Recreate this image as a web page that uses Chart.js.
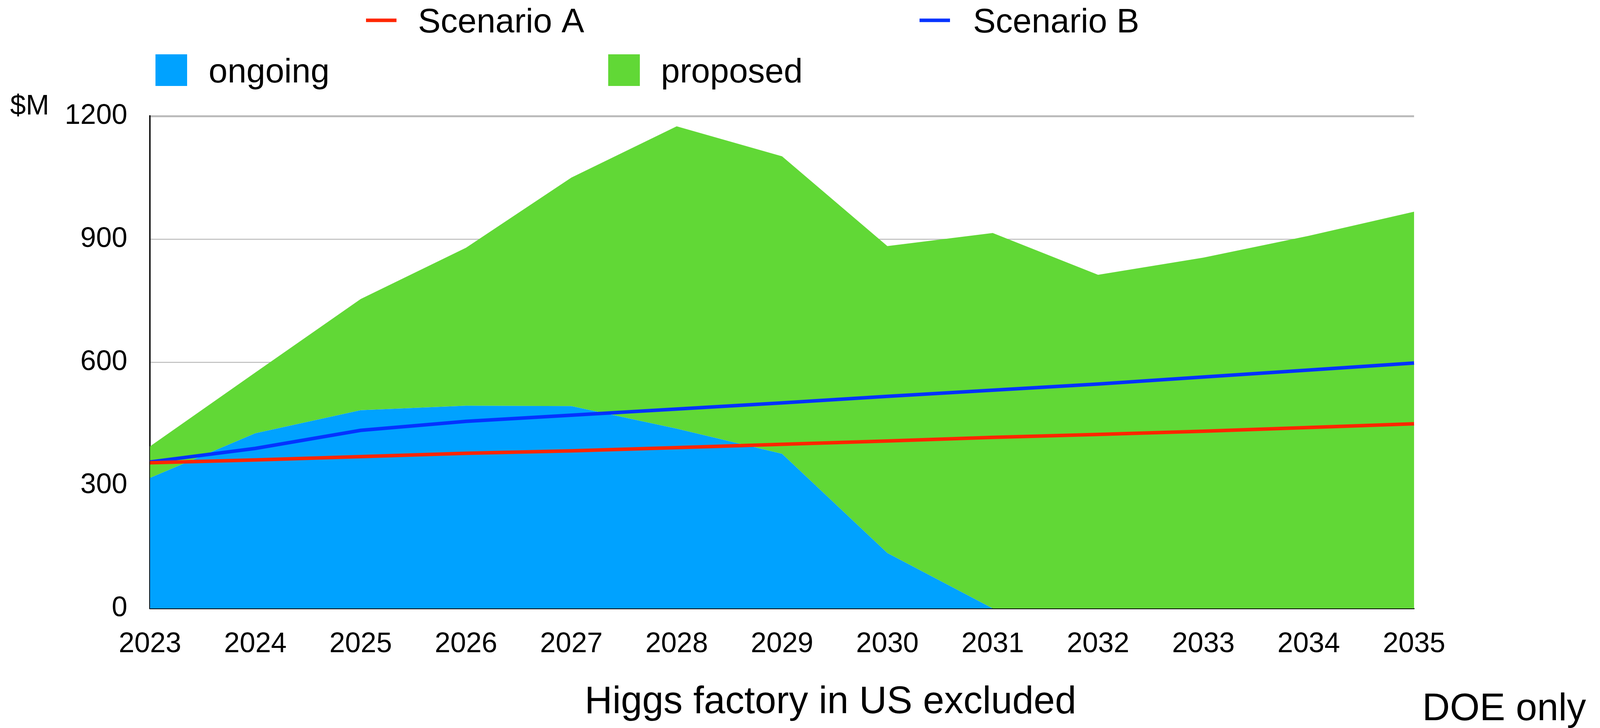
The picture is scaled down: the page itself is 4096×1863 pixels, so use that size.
<!DOCTYPE html>
<html>
<head>
<meta charset="utf-8">
<title>Higgs factory in US excluded</title>
<script src="https://cdn.jsdelivr.net/npm/chart.js@4"></script>
<style>
  html, body { margin: 0; padding: 0; background: #fff; }
  canvas { display: block; }
</style>
</head>
<body>
<canvas id="chart" width="4096" height="1863"></canvas>
<script>
'use strict';

// values ($M per year)
const years     = ['2023', '2024', '2025', '2026', '2027', '2028', '2029',
                   '2030', '2031', '2032', '2033', '2034', '2035'];
const ongoing   = [318, 427, 483, 494, 493, 438, 377, 135, 0, 0, 0, 0, 0];
const proposed  = [77, 148, 271, 385, 557, 737, 725, 748, 915, 813, 855, 908, 967];
const scenarioA = [355, 362, 370, 378, 384, 392, 400, 408, 417, 424, 432, 441, 450];
const scenarioB = [357, 390, 434, 456, 471, 486, 501, 517, 532, 547, 564, 581, 598];
const yTicks    = [0, 300, 600, 900, 1200];

const FONT = '"Liberation Sans", Arial, Helvetica, sans-serif';

// hand placed legend, the original puts it on two rows of two
const legendLayout = [
  { index: 0, kind: 'line', x: 937,  y: 52,  textX: 1070, baseline: 83 },
  { index: 1, kind: 'line', x: 2354, y: 52,  textX: 2491, baseline: 83 },
  { index: 2, kind: 'box',  x: 398,  y: 139, textX: 534,  baseline: 211 },
  { index: 3, kind: 'box',  x: 1557, y: 139, textX: 1692, baseline: 211 }
];

const labelsPlugin = {
  id: 'labels',
  afterDraw(chart) {
    const ctx = chart.ctx;
    ctx.save();
    ctx.textBaseline = 'alphabetic';
    ctx.textAlign = 'left';
    ctx.font = `87px ${FONT}`;

    for (const item of legendLayout) {
      const ds = chart.data.datasets[item.index];
      if (item.kind === 'line') {
        ctx.fillStyle = ds.borderColor;
        ctx.fillRect(item.x, item.y - 4.5, 78, 9);
      } else {
        ctx.fillStyle = ds.backgroundColor;
        ctx.fillRect(item.x, item.y, 81, 81);
      }
      ctx.fillStyle = '#000';
      ctx.fillText(ds.label, item.textX, item.baseline);
    }

    ctx.font = `72px ${FONT}`;
    ctx.fillText('$M', 26, 293);

    ctx.font = `98px ${FONT}`;
    ctx.textAlign = 'center';
    ctx.fillText('Higgs factory in US excluded', 2126, 1825);
    ctx.textAlign = 'left';
    ctx.fillText('DOE only', 3641, 1843);
    ctx.restore();
  }
};

const config = {
  type: 'line',
  data: {
    labels: years,
    datasets: [{
      label: 'Scenario A',
      data: scenarioA,
      stack: 'a',
      borderColor: '#FF2600',
      borderWidth: 9,
      fill: false,
      order: 0
    }, {
      label: 'Scenario B',
      data: scenarioB,
      stack: 'b',
      borderColor: '#0433FF',
      borderWidth: 9,
      fill: false,
      order: 0
    }, {
      label: 'ongoing',
      data: ongoing,
      stack: 'area',
      backgroundColor: '#00A2FF',
      borderColor: 'rgba(0,0,0,0)',
      borderWidth: 0,
      fill: 'origin',
      order: 1
    }, {
      label: 'proposed',
      data: proposed,
      stack: 'area',
      backgroundColor: '#61D836',
      borderColor: 'rgba(0,0,0,0)',
      borderWidth: 0,
      fill: '-1',
      order: 1
    }]
  },
  options: {
    responsive: false,
    animation: false,
    devicePixelRatio: 1,
    layout: {
      padding: { left: 0, top: 297, right: 476, bottom: 0 }
    },
    elements: {
      point: { radius: 0, hoverRadius: 0 },
      line: { tension: 0 }
    },
    plugins: {
      legend: { display: false },
      title: { display: false },
      tooltip: { enabled: false }
    },
    scales: {
      x: {
        offset: false,
        z: 1,
        grid: { display: false },
        border: { display: true, color: '#000', width: 3 },
        ticks: {
          color: '#000',
          font: { family: FONT, size: 72 },
          padding: 41,
          maxRotation: 0,
          autoSkip: false
        },
        afterFit(scale) { scale.height = 306; }
      },
      y: {
        stacked: true,
        min: 0,
        max: 1200,
        z: 1,
        afterBuildTicks(scale) {
          scale.ticks = yTicks.map(v => ({ value: v }));
        },
        grid: {
          drawTicks: false,
          color: c => c.tick && c.tick.value === 0 ? 'rgba(0,0,0,0)' : '#BBBBBB',
          lineWidth: c => c.tick && c.tick.value === 1200 ? 5 : 2.5
        },
        border: { display: true, color: '#000', width: 3.5 },
        ticks: {
          color: '#000',
          font: { family: FONT, size: 72 },
          padding: 58,
          callback: v => String(v)
        },
        afterFit(scale) { scale.width = 384; }
      }
    }
  },
  plugins: [labelsPlugin]
};

new Chart(document.getElementById('chart').getContext('2d'), config);
</script>
</body>
</html>
